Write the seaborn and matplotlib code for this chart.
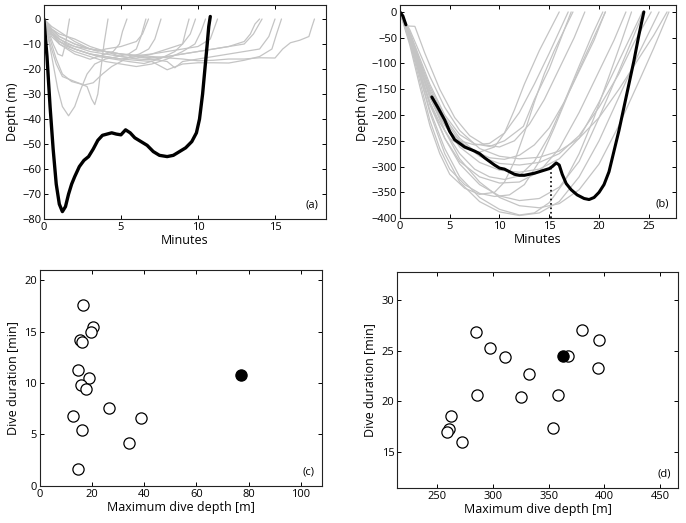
import matplotlib
matplotlib.use("Agg")
import matplotlib.pyplot as plt
import seaborn as sns

# ---- panel (a): shallow dives, minutes vs depth (m)
a_grey = [
    ([0, 0.3, 0.6, 0.9, 1.2, 1.4, 1.55, 1.66], [0, -5, -10, -14, -14.8, -10, -4, 0]),
    ([0, 0.4, 0.8, 1.2, 1.8, 2.4, 2.8, 3.1, 3.3, 3.5, 3.7, 3.9, 4.16],
     [0, -8, -16, -22, -25, -26, -27, -32, -34.2, -30, -20, -10, 0]),
    ([0, 0.5, 1, 1.5, 2, 2.5, 3, 3.5, 4, 4.5, 4.9, 5.1, 5.39],
     [0, -6, -10, -12, -14, -15, -16.1, -15, -14, -13, -10, -5, 0]),
    ([0, 0.3, 0.6, 0.9, 1.2, 1.6, 2, 2.4, 2.8, 3.3, 4, 4.8, 5.5, 6, 6.3, 6.62],
     [0, -8, -18, -28, -35, -38.7, -35, -28, -22, -18, -16, -15, -14, -12, -7, 0]),
    ([0, 0.5, 1, 1.5, 2, 3, 3.5, 4, 5, 5.5, 6, 6.4, 6.79],
     [0, -5, -8, -10, -11, -12, -12.9, -12, -11, -10, -9, -6, 0]),
    ([0, 0.4, 0.8, 1.2, 2, 2.6, 3.2, 3.8, 4.4, 5, 5.6, 6.2, 6.8, 7.2, 7.6],
     [0, -10, -18, -23, -25, -26.4, -25.5, -22, -19, -17, -15, -14, -12, -8, 0]),
    ([0, 0.5, 1, 1.5, 2.5, 3.5, 4.5, 5.5, 6.5, 7.5, 8.5, 9, 9.2, 9.42],
     [0, -6, -9, -11, -13, -15, -16, -17, -17.8, -16, -13, -10, -5, 0]),
    ([0, 0.5, 1, 2, 3, 4, 5, 6, 7, 8, 9, 9.5, 9.84],
     [0, -4, -6, -8, -11, -13, -15, -15.7, -14, -12, -10, -6, 0]),
    ([0, 0.5, 1, 2, 3, 4, 5, 6, 7, 8, 9, 9.8, 10.2, 10.49],
     [0, -7, -10, -13, -15, -17, -18, -19, -18, -16, -13, -10, -5, 0]),
    ([0, 0.5, 1, 2, 3, 4, 5, 6, 7, 8, 9, 10, 10.8, 11.27],
     [0, -3, -5, -9, -12, -13, -14, -14.6, -14, -13, -12, -11, -8, 0]),
    ([0, 0.5, 1, 2, 3, 4, 5, 6, 7, 8, 9, 10, 11, 12, 13, 13.4, 13.7, 14.0],
     [0, -5, -8, -11, -13, -14, -15, -16, -16.3, -15, -14, -13, -12, -11, -9, -6, -2, 0]),
    ([0, 0.5, 1, 2, 3, 4, 5, 6, 7, 8, 9, 10, 11, 12, 13, 13.6, 14.16],
     [0, -4, -7, -10, -12, -13, -14, -15, -15.5, -15, -14, -13, -12, -11, -10, -6, 0]),
    ([0, 0.5, 1, 2, 3, 4, 5, 6, 7, 8, 8.5, 9, 10, 11, 12, 13, 14, 14.6, 15],
     [0, -6, -9, -12, -14, -15, -16, -15, -16, -17, -19.5, -17, -16, -15, -14, -13, -12, -7, 0]),
    ([0, 0.5, 1, 2, 3, 4, 5, 6, 7, 8, 9, 10, 11, 12, 13, 14, 14.8, 15.1, 15.42],
     [0, -5, -9, -12, -14, -15, -16, -16.5, -17, -20.3, -18, -17.5, -17.5, -17.6, -16.5, -15, -12, -6, 0]),
    ([0, 0.5, 1, 2, 3, 4, 5, 6, 7, 8, 9, 10, 11, 12, 13, 14, 15, 15.5, 16, 16.6, 17.2, 17.4, 17.56],
     [0, -4, -7, -10, -12, -13, -14, -14.5, -15, -15.5, -16, -16.7, -16.5, -16, -16, -15.5, -15.6, -12, -9.5, -8.5, -7, -3, 0]),
]
a_bold_t = [0, 0.2, 0.4, 0.6, 0.8, 1.0, 1.2, 1.4, 1.6, 1.8, 2.0, 2.3, 2.6, 2.9, 3.2, 3.5, 3.8,
            4.1, 4.4, 4.7, 5.0, 5.3, 5.6, 5.9, 6.3, 6.7, 7.1, 7.5, 8.0, 8.4, 8.8, 9.2, 9.6,
            9.9, 10.1, 10.3, 10.45, 10.6, 10.7, 10.8]
a_bold_d = [0, -15, -35, -52, -66, -74, -77, -75, -70, -66, -63, -59, -56.5, -55, -52, -48.5, -46.5,
            -46, -45.5, -46, -46.3, -44.3, -45.5, -47.5, -49, -50.5, -53, -54.5, -55, -54.5, -53, -51.5, -49,
            -45.5, -40, -30, -20, -10, -3, 1]

# ---- panel (b): deep dives
b_grey = [
    ([0, 1, 2, 3, 4, 5, 6, 7.5, 9, 10.5, 12, 13.5, 15, 16.9],
     [0, -50, -110, -165, -205, -232, -250, -258, -255, -235, -195, -140, -80, 0]),
    ([0, 1, 2, 3, 4.5, 6, 7.5, 9, 10.5, 12, 12.4, 13.5, 15, 16.2, 17.2],
     [0, -40, -90, -140, -200, -238, -256, -261, -250, -228, -222, -170, -110, -50, 0]),
    ([0, 0.5, 1.5, 2.5, 4, 5.5, 7, 8.5, 10, 11.5, 13, 14.5, 16, 17.5, 18.57],
     [0, -27, -28, -80, -150, -205, -240, -258, -262, -250, -218, -170, -110, -50, 0]),
    ([0, 1, 2, 3, 4, 5, 6.5, 8, 9.5, 10.5, 11.5, 12.5, 14, 16],
     [0, -55, -120, -175, -215, -245, -265, -272, -262, -235, -190, -140, -75, 0]),
    ([0, 1, 2, 3, 4.5, 6, 7.5, 9, 10.5, 12, 13.5, 15, 16.5, 18, 19.5, 20.62],
     [0, -40, -95, -145, -205, -245, -270, -283, -286, -278, -258, -225, -175, -115, -55, 0]),
    ([0, 1, 2, 3, 4.5, 6, 8, 10, 12, 14, 16, 18, 20, 22, 24, 25.5, 26.83],
     [0, -35, -80, -125, -185, -230, -265, -280, -285, -282, -270, -245, -205, -150, -90, -45, 0]),
    ([0, 1, 2, 3, 4.5, 6, 8, 10, 12, 14, 16, 18, 20, 22, 23.5, 25.24],
     [0, -45, -100, -150, -210, -250, -280, -294, -297, -292, -275, -240, -185, -120, -60, 0]),
    ([0, 1, 2, 3, 4.5, 6, 8, 10, 12, 14, 16, 18, 20, 22, 24.35],
     [0, -45, -105, -160, -220, -262, -292, -307, -311, -305, -285, -245, -175, -95, 0]),
    ([0, 1, 2, 3, 4.5, 6, 7.5, 9, 10.5, 12, 13.5, 15, 16.5, 18, 19.3, 20.38],
     [0, -50, -110, -165, -230, -275, -305, -320, -325, -318, -290, -240, -175, -105, -45, 0]),
    ([0, 1, 2, 3, 4.5, 6, 8, 10, 12, 14, 16, 18, 20, 21.5, 22.7],
     [0, -55, -120, -180, -245, -290, -320, -332, -330, -310, -265, -195, -115, -55, 0]),
    ([0, 1, 2, 3, 4, 5, 6.5, 8, 9.5, 10.5, 11.5, 12.5, 13.5, 14.5, 15.5, 16.5, 17.38],
     [0, -65, -145, -220, -275, -315, -342, -354, -350, -330, -290, -235, -175, -120, -75, -35, 0]),
    ([0, 1, 2, 3, 4, 5, 6.5, 8, 9.5, 11, 12.5, 14, 15.5, 17, 18.5, 20.65],
     [0, -60, -135, -210, -265, -305, -335, -352, -358, -355, -335, -290, -225, -155, -90, 0]),
    ([0, 1, 2, 3, 4.5, 6, 8, 10, 12, 14, 16, 18, 20, 22, 24.48],
     [0, -50, -115, -175, -245, -295, -335, -357, -366, -362, -340, -290, -205, -115, 0]),
    ([0, 1, 2, 3, 4.5, 6, 8, 10, 12, 14, 16, 18, 20, 22, 24, 25.5, 27.02],
     [0, -45, -105, -160, -230, -285, -330, -360, -376, -380, -372, -345, -295, -220, -135, -70, 0]),
    ([0, 1, 2, 3, 4.5, 6, 8, 10, 12, 14, 16, 18, 20, 22, 24, 26.03],
     [0, -55, -125, -195, -275, -330, -368, -388, -395, -390, -368, -320, -250, -165, -80, 0]),
    ([0, 1, 2, 3, 4.5, 6, 8, 10, 12, 13.5, 15, 16.5, 18, 19.5, 21, 22.2, 23.26],
     [0, -55, -125, -190, -265, -320, -360, -383, -394, -390, -370, -330, -275, -205, -125, -60, 0]),
    ([0.6, 1.5, 2.4, 3.2], [-25, -70, -120, -165]),
]
b_bold_start_t = [0, 0.3, 0.6]
b_bold_start_d = [0, -8, -25]
b_bold_t = [3.2, 3.8, 4.5, 5, 5.5, 6, 6.5, 7, 7.5, 8, 8.5, 9, 9.5, 10, 10.5, 11, 11.5, 12, 12.5,
            13, 13.5, 14, 14.5, 15, 15.3, 15.7, 16, 16.3, 16.7, 17.2, 17.8, 18.5, 19, 19.5, 20,
            20.5, 21, 21.5, 22, 22.5, 23, 23.5, 24, 24.5]
b_bold_d = [-165, -185, -210, -232, -248, -255, -262, -266, -270, -275, -283, -290, -297, -303, -305,
            -310, -315, -317, -317, -315, -313, -310, -307, -304, -300, -293, -297, -315, -333, -345,
            -355, -362, -364, -360, -350, -335, -310, -270, -230, -185, -140, -95, -45, 0]
b_mark_t = 15.2

# ---- panel (c) / (d): max depth vs duration
c_depth = [16.7, 20.3, 19.5, 15.5, 16.3, 14.6, 19.0, 15.7, 17.8, 12.9, 26.4, 38.7, 16.1, 34.2, 14.8]
c_dur = [17.56, 15.42, 15.0, 14.16, 14.0, 11.27, 10.49, 9.84, 9.42, 6.79, 7.6, 6.62, 5.39, 4.16, 1.66]
c_hi_depth, c_hi_dur = [76.9], [10.75]

d_depth = [284.7, 297.0, 310.8, 332.3, 285.9, 325.1, 358.4, 262.3, 260.8, 258.7, 272.5, 354.2,
           379.6, 394.9, 394.3, 367.1]
d_dur = [26.83, 25.24, 24.35, 22.7, 20.62, 20.38, 20.65, 18.57, 17.21, 16.9, 15.99, 17.38,
         27.02, 26.03, 23.26, 24.48]
d_hi_depth, d_hi_dur = [362.6], [24.51]

sns.set_style("ticks")
plt.rcParams["font.family"] = ["Open Sans", "DejaVu Sans"]
plt.rcParams["font.size"] = 8
plt.rcParams["text.color"] = "black"
plt.rcParams["axes.labelcolor"] = "black"
plt.rcParams["xtick.color"] = "black"
plt.rcParams["ytick.color"] = "black"

fig = plt.figure(figsize=(6.86, 5.23), dpi=100)
ax_a = fig.add_axes([0.064, 0.581, 0.411, 0.409])
ax_b = fig.add_axes([0.583, 0.583, 0.402, 0.407])
ax_c = fig.add_axes([0.058, 0.071, 0.411, 0.413])
ax_d = fig.add_axes([0.579, 0.067, 0.409, 0.413])

grey = "#c4c4c4"

for t, d in a_grey:
    sns.lineplot(x=t, y=d, ax=ax_a, color=grey, lw=0.9, sort=False, estimator=None)
sns.lineplot(x=a_bold_t, y=a_bold_d, ax=ax_a, color="black", lw=2.4, sort=False, estimator=None)

for t, d in b_grey:
    sns.lineplot(x=t, y=d, ax=ax_b, color=grey, lw=0.9, sort=False, estimator=None)
sns.lineplot(x=b_bold_start_t, y=b_bold_start_d, ax=ax_b, color="black", lw=2.2, sort=False, estimator=None)
sns.lineplot(x=b_bold_t, y=b_bold_d, ax=ax_b, color="black", lw=2.2, sort=False, estimator=None)
ax_b.plot([b_mark_t, b_mark_t], [-400, -303], color="black", ls=":", lw=1.2)

sns.scatterplot(x=c_depth, y=c_dur, ax=ax_c, s=65, facecolor="white", edgecolor="black", linewidth=0.9)
sns.scatterplot(x=c_hi_depth, y=c_hi_dur, ax=ax_c, s=65, color="black", edgecolor="black", linewidth=0.9)
sns.scatterplot(x=d_depth, y=d_dur, ax=ax_d, s=65, facecolor="white", edgecolor="black", linewidth=0.9)
sns.scatterplot(x=d_hi_depth, y=d_hi_dur, ax=ax_d, s=65, color="black", edgecolor="black", linewidth=0.9)

ax_a.set(xlim=(0, 18.3), ylim=(-80, 5.5), xticks=[0, 5, 10, 15], yticks=range(-80, 1, 10))
ax_b.set(xlim=(0, 27.7), ylim=(-400, 13), xticks=range(0, 26, 5), yticks=range(-400, 1, 50))
ax_c.set(xlim=(0, 108), ylim=(0, 21), xticks=range(0, 101, 20), yticks=range(0, 21, 5))
ax_d.set(xlim=(214, 466), ylim=(11.4, 32.8), xticks=range(250, 451, 50), yticks=range(15, 31, 5))

for ax, lab in [(ax_a, "(a)"), (ax_b, "(b)"), (ax_c, "(c)"), (ax_d, "(d)")]:
    ax.tick_params(direction="in", top=True, right=True, length=3, width=0.7, labelsize=8, pad=2)
    for sp in ax.spines.values():
        sp.set_visible(True)
        sp.set_linewidth(0.8)
        sp.set_color("#222222")
    ax.text(0.975, 0.04, lab, transform=ax.transAxes, ha="right", va="bottom", fontsize=8)

ax_a.set_xlabel("Minutes", fontsize=9, labelpad=1)
ax_a.set_ylabel("Depth (m)", fontsize=9, labelpad=2)
ax_b.set_xlabel("Minutes", fontsize=9, labelpad=1)
ax_b.set_ylabel("Depth (m)", fontsize=9, labelpad=2)
ax_c.set_xlabel("Maximum dive depth [m]", fontsize=9, labelpad=1)
ax_c.set_ylabel("Dive duration [min]", fontsize=9, labelpad=4)
ax_d.set_xlabel("Maximum dive depth [m]", fontsize=9, labelpad=1)
ax_d.set_ylabel("Dive duration [min]", fontsize=9, labelpad=4)

fig.savefig("out.png", dpi=100)
